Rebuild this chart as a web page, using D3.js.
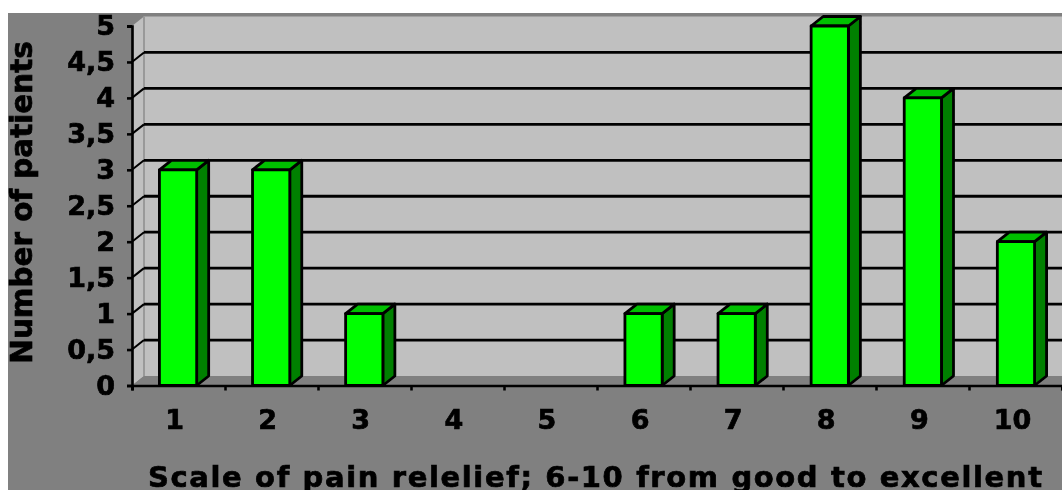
<!DOCTYPE html>
<html>
<head>
<meta charset="utf-8">
<script src="https://cdn.jsdelivr.net/npm/d3@7"></script>
<style>
  html, body { margin: 0; padding: 0; background: #fff; }
  svg { display: block; }
  text { font-family: "DejaVu Sans", sans-serif; font-weight: bold; fill: #000; stroke: #000; stroke-width: 0.7px; }
</style>
</head>
<body>
<div id="chart"></div>
<script>
// values
const categories = ['1', '2', '3', '4', '5', '6', '7', '8', '9', '10'];
const patients = [3, 3, 1, 0, 0, 1, 1, 5, 4, 2];
const yTicks = [0, 0.5, 1, 1.5, 2, 2.5, 3, 3.5, 4, 4.5, 5];
const yTitle = 'Number of patients';
const xTitle = 'Scale of pain relelief; 6-10 from good to excellent';

const width = 1062;
const height = 490;
const depthX = 12;
const depthY = -9.5;

const svg = d3.select('#chart')
  .append('svg')
  .attr('width', width)
  .attr('height', height);

const defs = svg.append('defs');
defs.append('filter').attr('id', 'soft')
  .append('feGaussianBlur').attr('stdDeviation', 0.65);
defs.append('clipPath').attr('id', 'panel')
  .append('rect')
  .attr('x', 8).attr('y', 13)
  .attr('width', width - 8).attr('height', height - 13);

const root = svg.append('g')
  .attr('clip-path', 'url(#panel)')
  .append('g')
  .attr('filter', 'url(#soft)');

// scales
const x = d3.scaleBand()
  .domain(categories)
  .range([131.5, 1062.5])
  .paddingInner(0.6)
  .paddingOuter(0.3);
const xSlot = d3.scaleLinear().domain([0, 10]).range([132, 1062]);
const y = d3.scaleLinear().domain([0, 5]).range([385.5, 26]);

// grey panel
root.append('rect')
  .attr('x', 0).attr('y', 0)
  .attr('width', width).attr('height', height)
  .attr('fill', '#808080');

// walls
root.append('rect')
  .attr('x', 132 + depthX).attr('y', y(5) + depthY)
  .attr('width', width).attr('height', y(0) - y(5))
  .attr('fill', '#c0c0c0');
root.append('polygon')
  .attr('points', [
    [132, y(5)], [132 + depthX, y(5) + depthY],
    [132 + depthX, y(0) + depthY], [132, y(0)]
  ].join(' '))
  .attr('fill', '#c0c0c0');
root.append('line')
  .attr('x1', 132 + depthX).attr('x2', 132 + depthX)
  .attr('y1', y(5) + depthY).attr('y2', y(0) + depthY)
  .attr('stroke', '#999').attr('stroke-width', 2);
root.append('polygon')
  .attr('points', [
    [132, y(0)], [132 + depthX, y(0) + depthY],
    [width + 5, y(0) + depthY], [width + 5, y(0)]
  ].join(' '))
  .attr('fill', '#808080');

// gridlines on back and side wall
const grid = root.append('g').attr('stroke', '#000').attr('stroke-width', 2.8);
yTicks.filter(d => d > 0 && d < 5).forEach(d => {
  grid.append('line')
    .attr('x1', 132 + depthX).attr('x2', width + 5)
    .attr('y1', y(d) + depthY).attr('y2', y(d) + depthY);
  grid.append('line')
    .attr('x1', 132).attr('x2', 132 + depthX)
    .attr('y1', y(d)).attr('y2', y(d) + depthY)
    .attr('stroke-width', 2);
});

// bars
const bars = root.selectAll('g.bar')
  .data(patients.map((v, i) => ({ cat: categories[i], v })).filter(d => d.v > 0))
  .enter()
  .append('g')
  .attr('class', 'bar')
  .attr('stroke', '#000')
  .attr('stroke-width', 2.8)
  .attr('stroke-linejoin', 'round');

bars.append('polygon')
  .attr('fill', '#008000')
  .attr('points', d => {
    const r = x(d.cat) + x.bandwidth();
    return [[r, y(d.v)], [r + depthX, y(d.v) + depthY], [r + depthX, y(0) + depthY], [r, y(0)]].join(' ');
  });
bars.append('polygon')
  .attr('fill', '#00c000')
  .attr('points', d => {
    const l = x(d.cat);
    const r = l + x.bandwidth();
    return [[l, y(d.v)], [l + depthX, y(d.v) + depthY], [r + depthX, y(d.v) + depthY], [r, y(d.v)]].join(' ');
  });
bars.append('rect')
  .attr('fill', '#00ff00')
  .attr('x', d => x(d.cat))
  .attr('y', d => y(d.v))
  .attr('width', x.bandwidth())
  .attr('height', d => y(0) - y(d.v));

// axes
const yAxis = d3.axisLeft(y)
  .tickValues(yTicks)
  .tickSize(5)
  .tickPadding(12)
  .tickFormat(d => String(d).replace('.', ','));
const yG = root.append('g').attr('transform', 'translate(132,0)').call(yAxis);
yG.selectAll('path, line').attr('stroke', '#000').attr('stroke-width', 2.6);
yG.selectAll('text')
  .attr('font-size', 27)
  .attr('fill', '#000')
  .attr('font-family', '"DejaVu Sans", sans-serif');

const xAxis = d3.axisBottom(xSlot)
  .tickValues(d3.range(0, 11))
  .tickSize(5)
  .tickFormat('');
const xG = root.append('g').attr('transform', `translate(0,${y(0)})`).call(xAxis);
xG.selectAll('path, line').attr('stroke', '#000').attr('stroke-width', 2.6);

root.selectAll('text.cat')
  .data(categories)
  .enter()
  .append('text')
  .attr('class', 'cat')
  .attr('x', d => x(d) + x.bandwidth() / 2 - 3.5)
  .attr('y', 429)
  .attr('text-anchor', 'middle')
  .attr('font-size', 27)
  .text(d => d);

// titles
root.append('text')
  .attr('transform', 'translate(32,202.5) rotate(-90)')
  .attr('text-anchor', 'middle')
  .attr('font-size', 29.4)
  .text(yTitle);
root.append('text')
  .attr('x', 148).attr('y', 486.5)
  .attr('font-size', 29)
  .attr('textLength', 894)
  .attr('lengthAdjust', 'spacing')
  .text(xTitle);
</script>
</body>
</html>
